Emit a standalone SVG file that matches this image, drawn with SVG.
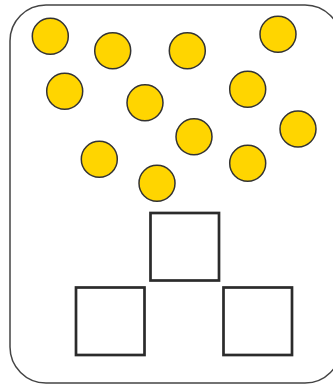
<svg xmlns="http://www.w3.org/2000/svg" width="333" height="385" viewBox="0 0 333 385">
<style>
.ball{fill:#FFD500;stroke:#333;stroke-width:1.5}
.box{fill:none;stroke:#2b2b2b;stroke-width:2.7}
.frame{fill:#fff;stroke:#444;stroke-width:1.5}
</style>
<rect x="0" y="0" width="333" height="385" fill="#fff"/>
<rect id="frame" class="frame" x="10" y="5" width="331" height="378" rx="36" ry="36"/>
<g id="balls">
<circle id="b1" class="ball" cx="50.3" cy="36.3" r="18"/>
<circle id="b2" class="ball" cx="112.7" cy="50.7" r="18"/>
<circle id="b3" class="ball" cx="187.3" cy="50.7" r="18"/>
<circle id="b4" class="ball" cx="278" cy="34.3" r="18"/>
<circle id="b5" class="ball" cx="64.7" cy="91.3" r="18"/>
<circle id="b6" class="ball" cx="145" cy="102.7" r="18"/>
<circle id="b7" class="ball" cx="247.7" cy="89.3" r="18"/>
<circle id="b8" class="ball" cx="194" cy="136.7" r="18"/>
<circle id="b9" class="ball" cx="298" cy="129" r="18"/>
<circle id="b10" class="ball" cx="99.3" cy="159.3" r="18"/>
<circle id="b11" class="ball" cx="247.7" cy="163.3" r="18"/>
<circle id="b12" class="ball" cx="157" cy="183.3" r="18"/>
</g>
<g id="boxes">
<rect id="box-top" class="box" x="150.5" y="213" width="68.5" height="67.5"/>
<rect id="box-left" class="box" x="76" y="287.5" width="68.5" height="67.5"/>
<rect id="box-right" class="box" x="223.5" y="287.5" width="68.5" height="67.5"/>
</g>
</svg>
